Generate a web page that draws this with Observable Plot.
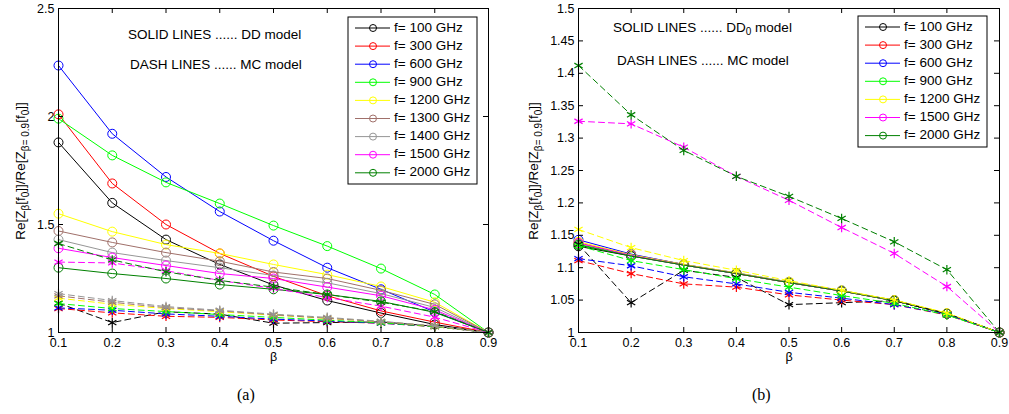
<!DOCTYPE html>
<html><head><meta charset="utf-8">
<script src="https://cdn.jsdelivr.net/npm/d3@7"></script>
<script src="https://cdn.jsdelivr.net/npm/@observablehq/plot@0.6"></script>
<style>
body{margin:0;background:#fff;width:1009px;height:414px;position:relative;overflow:hidden;font-family:"Liberation Sans",Arial,sans-serif;}
#a{position:absolute;left:0;top:0}
#b{position:absolute;left:505px;top:0}
.cap{position:absolute;top:386px;font-family:"Liberation Serif","Times New Roman",serif;font-size:16px;color:#000}
</style></head><body>
<div id="a"></div><div id="b"></div>
<div class="cap" style="left:237px">(a)</div>
<div class="cap" style="left:752px">(b)</div>
<script>
// ---------- data ----------
const beta = [0.1, 0.2, 0.3, 0.4, 0.5, 0.6, 0.7, 0.8, 0.9];
const freqsA = [100, 300, 600, 900, 1200, 1300, 1400, 1500, 2000];
const freqsB = [100, 300, 600, 900, 1200, 1500, 2000];
const freqColors = ["#000000", "#ff0000", "#0000ff", "#00ff00", "#ffff00", "#a0706a", "#969696", "#ff00ff", "#008000"];

// Panel (a): DD model (solid), rows follow freqsA
const ddA = [
  [1.88, 1.60, 1.43, 1.315, 1.22, 1.148, 1.09, 1.037, 1],
  [2.01, 1.69, 1.50, 1.366, 1.26, 1.17, 1.10, 1.048, 1],
  [2.236, 1.92, 1.72, 1.56, 1.425, 1.30, 1.20, 1.095, 1],
  [1.99, 1.82, 1.695, 1.597, 1.495, 1.40, 1.296, 1.176, 1],
  [1.55, 1.467, 1.407, 1.366, 1.315, 1.268, 1.213, 1.14, 1],
  [1.47, 1.417, 1.37, 1.33, 1.28, 1.25, 1.195, 1.13, 1],
  [1.43, 1.37, 1.333, 1.30, 1.264, 1.23, 1.18, 1.116, 1],
  [1.39, 1.347, 1.31, 1.273, 1.25, 1.21, 1.17, 1.105, 1],
  [1.30, 1.273, 1.25, 1.222, 1.20, 1.176, 1.144, 1.093, 1]
];
// MC model (dashed), rows follow freqsA (shared by both panels)
const mc = [
  [1.136, 1.046, 1.096, 1.085, 1.043, 1.046, 1.049, 1.029, 1],
  [1.111, 1.091, 1.075, 1.07, 1.058, 1.05, 1.043, 1.027, 1],
  [1.114, 1.103, 1.086, 1.075, 1.062, 1.053, 1.043, 1.028, 1],
  [1.134, 1.111, 1.097, 1.083, 1.07, 1.057, 1.045, 1.027, 1],
  [1.159, 1.131, 1.111, 1.096, 1.08, 1.065, 1.05, 1.03, 1],
  [1.17, 1.14, 1.115, 1.10, 1.082, 1.066, 1.05, 1.03, 1],
  [1.18, 1.148, 1.12, 1.103, 1.085, 1.07, 1.052, 1.031, 1],
  [1.326, 1.322, 1.286, 1.241, 1.204, 1.162, 1.122, 1.071, 1],
  [1.412, 1.336, 1.281, 1.241, 1.21, 1.176, 1.14, 1.097, 1]
];
// Panel (b): DD0 model (solid), rows follow freqsB
const dd0B = [
  [1.133, 1.118, 1.104, 1.091, 1.077, 1.064, 1.05, 1.029, 1],
  [1.138, 1.12, 1.105, 1.091, 1.077, 1.064, 1.049, 1.029, 1],
  [1.143, 1.121, 1.105, 1.092, 1.078, 1.065, 1.049, 1.029, 1],
  [1.136, 1.119, 1.104, 1.091, 1.077, 1.064, 1.049, 1.029, 1],
  [1.14, 1.12, 1.105, 1.092, 1.078, 1.065, 1.05, 1.03, 1],
  [1.138, 1.119, 1.104, 1.091, 1.077, 1.064, 1.049, 1.029, 1],
  [1.135, 1.118, 1.104, 1.091, 1.077, 1.064, 1.049, 1.029, 1]
];
const xTicks = [0.1, 0.2, 0.3, 0.4, 0.5, 0.6, 0.7, 0.8, 0.9];
const yTicksA = [1, 1.5, 2, 2.5];
const yTicksB = [1, 1.05, 1.1, 1.15, 1.2, 1.25, 1.3, 1.35, 1.4, 1.45, 1.5];

// ---------- drawing ----------
const FONT = "Liberation Sans, Arial, Helvetica, sans-serif";
const FS = 13.5;
const TFS = 12.5;

function series(values) {
  return beta.map((b, i) => ({b, v: values[i]}));
}

function panel(opt) {
  const W = opt.width, H = 370, mt = 8, mb = 38;
  const fw = W - opt.ml - opt.mr, fh = H - mt - mb;
  const marks = [];
  marks.push(Plot.axisX(xTicks, {tickSize: 0, tickPadding: 6, label: null, fontSize: TFS, tickFormat: d => String(d)}));
  marks.push(Plot.axisY(opt.yTicks, {tickSize: 0, tickPadding: 4, label: null, fontSize: TFS, tickFormat: d => String(d)}));
  // solid lines with open circles
  opt.solid.forEach((vals, k) => {
    const c = opt.colors[k];
    const d = series(vals);
    marks.push(Plot.line(d, {x: "b", y: "v", stroke: c, strokeWidth: 1}));
    marks.push(Plot.dot(d, {x: "b", y: "v", r: 4.5, stroke: c, fill: "none", strokeWidth: 1}));
  });
  // dashed lines with asterisks
  opt.dashed.forEach((vals, k) => {
    const c = opt.colors[k];
    const d = series(vals);
    marks.push(Plot.line(d, {x: "b", y: "v", stroke: c, strokeWidth: 1, strokeDasharray: "6,4"}));
    marks.push(Plot.dot(d, {x: "b", y: "v", symbol: "asterisk", r: 4.5, stroke: c, strokeWidth: 1.2}));
  });
  marks.push(Plot.frame({stroke: "#000", strokeWidth: 1}));
  // inward ticks on all four sides
  marks.push(Plot.ruleX(xTicks, {x: d => d, insetTop: fh - 5, stroke: "#000"}));
  marks.push(Plot.ruleX(xTicks, {x: d => d, insetBottom: fh - 5, stroke: "#000"}));
  marks.push(Plot.ruleY(opt.yTicks, {y: d => d, insetRight: fw - 5, stroke: "#000"}));
  marks.push(Plot.ruleY(opt.yTicks, {y: d => d, insetLeft: fw - 5, stroke: "#000"}));
  marks.push(Plot.text(["β"], {text: d => d, frameAnchor: "bottom", dy: 28, fontSize: TFS, fill: "#000"}));

  const svg = Plot.plot({
    width: W, height: H,
    marginLeft: opt.ml, marginRight: opt.mr, marginTop: mt, marginBottom: mb,
    x: {domain: [0.1, 0.9]},
    y: {domain: opt.yDomain},
    style: {fontFamily: FONT, fontSize: TFS + "px", color: "#000", background: "#fff", overflow: "visible"},
    marks
  });

  const s = d3.select(svg);
  s.selectAll("g[aria-label$='tick label']").attr("font-size", TFS).style("font-size", TFS + "px");
  s.selectAll("g[aria-label$='tick label'] text").style("font-size", TFS + "px");

  // y-axis label with subscripts
  const yl = s.append("text")
    .attr("transform", `translate(${opt.ylx},${opt.yly}) rotate(-90)`)
    .attr("text-anchor", "middle")
    .attr("font-family", FONT).style("font-size", FS + "px").attr("fill", "#000");
  const parts = [["Re[Z", 0], ["β", 1], ["[f", 0], ["0", 1], ["]]/Re[Z", 0], ["β= 0.9", 1], ["[f", 0], ["0", 1], ["]]", 0]];
  let sub = false;
  parts.forEach(([t, isSub]) => {
    const ts = yl.append("tspan").text(t);
    if (isSub) { ts.style("font-size", "10px"); if (!sub) { ts.attr("dy", 4); sub = true; } }
    else if (sub) { ts.attr("dy", -4); sub = false; }
  });

  // annotations
  const a1 = s.append("text").attr("x", opt.ann1[0]).attr("y", opt.ann1[1])
    .attr("text-anchor", "start")
    .attr("font-family", FONT).style("font-size", FS + "px").attr("fill", "#000").attr("dominant-baseline", "middle");
  a1.append("tspan").text("SOLID LINES ...... " + opt.modelName);
  if (opt.modelSub) {
    a1.append("tspan").text(opt.modelSub).attr("dy", 4).style("font-size", "10px");
    a1.append("tspan").text(" model").attr("dy", -4);
  } else {
    a1.append("tspan").text(" model");
  }
  s.append("text").attr("x", opt.ann2[0]).attr("y", opt.ann2[1])
    .attr("text-anchor", "start")
    .attr("font-family", FONT).style("font-size", FS + "px").attr("fill", "#000").attr("dominant-baseline", "middle")
    .text("DASH LINES ...... MC model");

  // legend
  const [bx, by, bw, bh] = opt.legend;
  const g = s.append("g").attr("text-anchor", "start");
  g.append("rect").attr("x", bx).attr("y", by).attr("width", bw).attr("height", bh)
    .attr("fill", "#fff").attr("stroke", "#000").attr("stroke-width", 1);
  opt.freqs.forEach((f, i) => {
    const y = by + 11 + i * 18.1;
    const c = opt.colors[i];
    g.append("line").attr("x1", bx + 7).attr("x2", bx + 42).attr("y1", y).attr("y2", y).attr("stroke", c);
    g.append("circle").attr("cx", bx + 25).attr("cy", y).attr("r", 3.5).attr("fill", "none").attr("stroke", c);
    g.append("text").attr("x", bx + 46).attr("y", y).attr("dominant-baseline", "middle")
      .attr("text-anchor", "start")
      .attr("font-family", FONT).style("font-size", FS + "px").attr("fill", "#000").text(`f= ${f} GHz`);
  });
  return svg;
}

const colorsB = freqsB.map(f => freqColors[freqsA.indexOf(f)]);
const mcB = freqsB.map(f => mc[freqsA.indexOf(f)]);

document.getElementById("a").appendChild(panel({
  width: 505, ml: 58, mr: 17,
  yDomain: [1, 2.5], yTicks: yTicksA,
  solid: ddA, dashed: mc, colors: freqColors, freqs: freqsA,
  ylx: 25, yly: 171,
  ann1: [128, 35], ann2: [130, 65], modelName: "DD", modelSub: null,
  legend: [348, 17, 129, 167]
}));
document.getElementById("b").appendChild(panel({
  width: 504, ml: 73, mr: 10,
  yDomain: [1, 1.5], yTicks: yTicksB,
  solid: dd0B, dashed: mcB, colors: colorsB, freqs: freqsB,
  ylx: 33, yly: 171,
  ann1: [108, 28], ann2: [112, 61], modelName: "DD", modelSub: "0",
  legend: [353, 16, 129, 131]
}));
</script>
</body></html>
